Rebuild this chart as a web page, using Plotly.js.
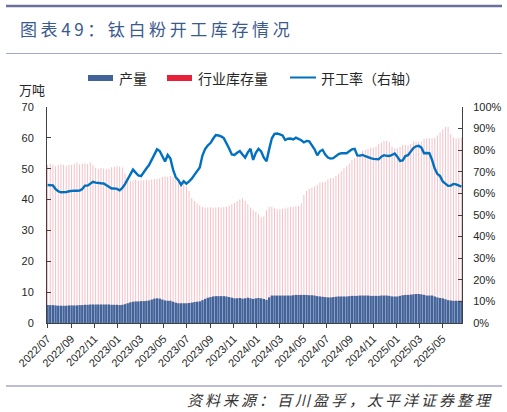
<!DOCTYPE html>
<html>
<head>
<meta charset="utf-8">
<script src="https://cdn.plot.ly/plotly-3.0.1.min.js"></script>
<style>
html,body{margin:0;padding:0;background:#ffffff;}
#chart{width:507px;height:412px;}
</style>
</head>
<body>
<div id="chart"></div>
<script>
// ---- data (weekly, starting 2022-07-01) ----
const startDate = '2022-07-01';
const seriesNames = ['产量', '行业库存量', '开工率（右轴）'];

// 产量 (万吨)
const production = [
  5.8,5.8,5.8,
  5.7,5.6,5.6,5.6,5.6,5.7,5.7,5.7,5.7,5.8,5.8,5.9,5.9,6.0,6.0,6.0,6.0,6.0,
  6.0,6.0,6.0,5.9,5.9,5.9,5.8,5.9,
  6.1,6.4,6.7,6.9,7.0,7.0,7.1,7.1,7.2,7.3,7.6,7.9,8.0,7.9,7.6,7.3,7.2,7.2,6.9,6.6,6.4,6.4,6.4,6.4,6.5,6.6,6.8,6.9,7.0,
  7.4,7.8,8.2,8.4,8.6,8.7,8.7,8.7,8.7,8.6,8.4,8.2,8.0,8.0,8.1,7.9,8.0,8.2,8.0,7.8,8.0,8.1,8.0,7.8,7.5,8.3,8.9,
  8.9,8.9,8.9,8.9,8.9,8.9,8.9,9.0,9.1,9.1,
  9.1,9.1,9.1,9.0,9.0,
  8.9,8.7,8.6,8.5,8.4,8.3,8.3,8.4,8.5,
  8.6,8.6,8.6,8.6,8.7,
  8.8,8.8,8.8,
  8.9,8.9,8.9,8.9,8.8,8.8,8.8,8.8,8.9,8.9,8.9,8.8,
  8.6,8.6,8.6,
  8.8,9.0,9.1,9.1,
  9.2,
  9.3,9.4,9.4,9.3,
  9.1,8.9,8.9,8.9,
  8.6,8.3,8.1,8.0,7.7,
  7.4,7.3,7.2,7.2,7.2,7.2
];

// 行业库存量 (万吨)
const inventory = [
  51.2,51.6,51.3,50.8,51.2,51.4,51.3,51.0,51.3,51.2,
  51.5,52.0,51.4,51.6,51.8,51.5,52.0,51.2,
  50.3,50.0,50.2,50.1,49.8,50.0,
  50.5,50.6,50.8,50.6,50.4,
  48.5,
  46.3,46.0,46.2,46.4,46.1,46.3,46.2,46.4,46.3,46.5,46.6,46.7,46.8,
  47.3,47.5,47.4,47.6,47.2,
  46.9,46.6,46.3,45.5,44.2,42.8,40.5,39.5,38.8,38.2,
  37.6,37.4,37.4,37.5,37.4,37.4,37.5,37.4,37.6,37.7,
  38.0,38.5,38.9,39.5,40.0,40.4,39.6,38.6,37.4,36.6,36.0,35.2,34.3,34.5,36.5,
  37.7,37.7,37.2,36.9,36.9,37.0,37.1,37.4,37.7,37.7,37.8,37.9,
  38.8,41.5,42.8,43.4,43.8,44.2,44.8,45.5,45.6,45.8,
  46.6,46.9,47.0,47.6,48.4,49.2,50.1,50.9,51.7,52.8,53.4,54.0,
  55.0,55.8,56.1,56.5,56.8,56.9,57.2,57.9,58.5,59.0,59.0,58.6,
  57.2,56.6,56.6,57.0,57.7,57.7,57.6,58.0,58.8,58.8,58.7,58.8,
  59.6,59.8,59.9,59.8,60.0,60.8,61.8,62.8,63.6,63.5,61.2,60.0,59.8,59.9,60.2
];

// 开工率 (%)
const utilization = [
  63.9,63.9,63.7,62.0,61.0,60.5,60.5,60.6,61.0,61.3,
  61.3,61.2,61.3,62.0,63.6,63.6,64.5,65.4,65.0,64.7,
  64.7,64.6,63.8,63.0,62.3,62.3,62.1,61.4,62.5,64.3,
  66.5,68.5,71.0,69.6,68.3,68.0,70.0,71.5,73.1,75.5,
  78.5,80.4,79.6,76.8,74.8,77.8,76.2,71.0,67.5,66.1,
  64.0,65.6,64.5,65.6,66.8,68.6,70.3,72.0,77.5,80.5,
  82.2,83.3,85.3,87.0,86.8,86.4,85.6,83.5,80.8,78.0,
  77.8,78.8,79.6,78.0,76.6,79.0,80.7,75.5,78.8,80.6,
  79.4,76.5,74.9,80.5,85.5,87.6,87.7,87.3,86.8,84.7,
  85.3,85.4,85.0,85.8,85.3,84.6,83.6,84.3,84.1,82.5,
  80.4,77.6,79.5,80.2,78.0,76.6,76.1,76.3,77.2,78.2,
  78.6,78.6,78.6,79.5,80.4,80.6,77.6,77.5,77.8,77.2,
  76.6,76.3,76.0,75.8,75.8,77.0,77.7,77.4,77.3,77.8,
  78.5,77.0,75.0,75.3,77.3,77.7,79.5,81.0,81.8,82.0,
  81.2,78.6,78.7,78.6,75.5,71.5,69.0,68.0,65.5,64.3,
  63.5,63.6,64.4,64.2,63.8,63.1
];

// weekly category dates
const DAY = 86400000, WEEK = 7 * DAY;
const t0 = Date.parse(startDate + 'T00:00:00Z');
const dates = production.map((_, i) => new Date(t0 + i * WEEK).toISOString().slice(0, 10));

// ---- styling ----
const W = 507, H = 412;
const L = 47, R = 462, T = 107, B = 323;
const px = x => (x - L) / (R - L);
const py = y => (B - y) / (B - T);
const numFont = 'Liberation Sans, Arial, sans-serif';
const cjkFont = 'Noto Sans CJK SC, sans-serif';
const blue = '#41639a', red = '#e8203a', lineBlue = '#0070c0';

const traces = [
  {
    type: 'bar', name: seriesNames[1], x: dates, y: inventory,
    width: 0.36 * WEEK, marker: {color: '#f5bdc4', line: {width: 0}},
    showlegend: false, hoverinfo: 'skip'
  },
  {
    type: 'bar', name: seriesNames[0], x: dates, y: production,
    width: 0.9 * WEEK, marker: {color: blue, line: {width: 0}},
    showlegend: false, hoverinfo: 'skip'
  },
  {
    type: 'scatter', mode: 'lines', name: seriesNames[2], x: dates, y: utilization,
    yaxis: 'y2', line: {color: lineBlue, width: 2.4, shape: 'linear'},
    showlegend: false, hoverinfo: 'skip'
  }
];

const axisColor = '#404040';
const layout = {
  width: W, height: H,
  margin: {l: L, r: W - R, t: T, b: H - B, pad: 0},
  paper_bgcolor: '#ffffff', plot_bgcolor: '#ffffff',
  barmode: 'overlay',
  font: {family: numFont, size: 11, color: '#262626'},
  title: {
    text: '<span style="letter-spacing:3.6px">图表49：钛白粉开工库存情况</span>',
    xref: 'container', yref: 'container',
    x: 20 / W, xanchor: 'left', y: 1 - 30 / H, yanchor: 'middle',
    font: {family: cjkFont, size: 17, color: '#3b5a8c'}
  },
  xaxis: {
    type: 'date',
    range: [new Date(t0 - 1.5 * DAY).toISOString(), new Date(t0 + (production.length - 1) * WEEK + 1.5 * DAY).toISOString()],
    tick0: startDate, dtick: 'M2', tickformat: '%Y/%m', tickangle: -45,
    showgrid: false, zeroline: false,
    showline: true, linecolor: axisColor, linewidth: 1,
    ticks: 'outside', ticklen: 4, tickcolor: axisColor,
    tickfont: {family: numFont, size: 11, color: '#262626'}
  },
  yaxis: {
    range: [0, 70], dtick: 10, tick0: 0,
    showgrid: false, zeroline: false,
    showline: true, linecolor: axisColor, linewidth: 1,
    ticks: 'inside', ticklen: 4, tickcolor: axisColor,
    ticklabelstandoff: 10,
    tickfont: {family: numFont, size: 11, color: '#262626'}
  },
  yaxis2: {
    overlaying: 'y', side: 'right',
    range: [0, 100], dtick: 10, tick0: 0, ticksuffix: '%',
    showgrid: false, zeroline: false,
    showline: true, linecolor: axisColor, linewidth: 1,
    ticks: 'inside', ticklen: 4, tickcolor: axisColor,
    ticklabelstandoff: 8,
    tickfont: {family: numFont, size: 11, color: '#262626'}
  },
  shapes: [
    {type: 'line', xref: 'paper', yref: 'paper', x0: px(6), x1: px(502), y0: py(6), y1: py(6), line: {color: '#6d6f9c', width: 2.5}},
    {type: 'line', xref: 'paper', yref: 'paper', x0: px(6), x1: px(502), y0: py(53.5), y1: py(53.5), line: {color: '#a4a7cc', width: 1.2}},
    {type: 'line', xref: 'paper', yref: 'paper', x0: px(6), x1: px(502), y0: py(386), y1: py(386), line: {color: '#a4a7cc', width: 1.5}},
    {type: 'rect', xref: 'paper', yref: 'paper', x0: px(88), x1: px(113), y0: py(81), y1: py(75), fillcolor: blue, line: {width: 0}},
    {type: 'rect', xref: 'paper', yref: 'paper', x0: px(167), x1: px(192), y0: py(81), y1: py(75), fillcolor: red, line: {width: 0}},
    {type: 'line', xref: 'paper', yref: 'paper', x0: px(290), x1: px(316), y0: py(77.5), y1: py(77.5), line: {color: lineBlue, width: 2}}
  ],
  annotations: [
    {text: seriesNames[0], xref: 'paper', yref: 'paper', x: px(117), y: py(78), xanchor: 'left', yanchor: 'middle', showarrow: false, font: {family: cjkFont, size: 14, color: '#262626'}},
    {text: seriesNames[1], xref: 'paper', yref: 'paper', x: px(196), y: py(78), xanchor: 'left', yanchor: 'middle', showarrow: false, font: {family: cjkFont, size: 14, color: '#262626'}},
    {text: seriesNames[2], xref: 'paper', yref: 'paper', x: px(319), y: py(78), xanchor: 'left', yanchor: 'middle', showarrow: false, font: {family: cjkFont, size: 14, color: '#262626'}},
    {text: '万吨', xref: 'paper', yref: 'paper', x: px(17), y: py(89), xanchor: 'left', yanchor: 'middle', showarrow: false, font: {family: cjkFont, size: 13, color: '#262626'}},
    {text: '<i><span style="letter-spacing:3px">资料来源：百川盈孚，太平洋证券整理</span></i>', xref: 'paper', yref: 'paper', x: px(495), y: py(399), xanchor: 'right', yanchor: 'middle', showarrow: false, font: {family: cjkFont, size: 15, color: '#333333'}}
  ]
};

Plotly.newPlot('chart', traces, layout, {staticPlot: true, displayModeBar: false});
</script>
</body>
</html>
